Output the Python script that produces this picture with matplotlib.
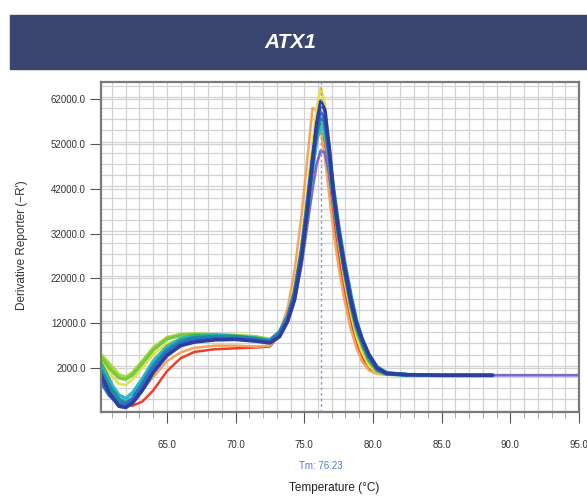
import numpy as np
import matplotlib
matplotlib.use("Agg")
import matplotlib.pyplot as plt
from matplotlib.patches import Rectangle
from matplotlib.ticker import MultipleLocator, FixedLocator
from matplotlib.transforms import blended_transform_factory

nan = np.nan

# temperature points (deg C) shared by all melt curves
temps = [60.2, 60.8, 61.5, 62.0, 62.5, 63.2, 64.0, 65.0, 66.0, 67.0, 68.5, 70.0,
         71.5, 72.5, 73.2, 73.8, 74.3, 74.8, 75.2, 75.6, 75.9, 76.2, 76.5, 76.8,
         77.1, 77.5, 77.9, 78.4, 78.8, 79.2, 79.7, 80.3, 81.0, 82.5, 85.0, 88.7,
         91.0, 95.0]

# derivative reporter values, in thousands
red = [-1.5, -3.0, -5.0, -6.0, -6.4, -5.5, -3.0, 1.3, 4.2, 5.6, 6.2, 6.4, 6.6, 6.8,
       9.5, 14.0, 20.0, 29.0, 39.0, 49.0, 54.0, 55.0, 52.0, 44.5, 36.0, 27.0, 19.5,
       12.0, 7.5, 4.5, 2.0, 0.9, 0.6, nan, nan, nan, nan, nan]
orange = [-0.5, -3.0, -5.0, -5.5, -5.0, -3.0, 0.0, 3.5, 5.5, 6.5, 7.0, 7.0, 6.8, 7.0,
          10.0, 15.5, 24.0, 36.0, 48.0, 60.0, 59.5, 55.0, 49.0, 41.0, 33.0, 24.5, 17.5,
          10.5, 6.5, 3.5, 1.5, 0.7, 0.5, nan, nan, nan, nan, nan]
yellow = [3.8, 1.0, -1.5, -1.8, -0.5, 2.0, 5.0, 7.5, 8.5, 8.8, 8.8, 8.6, 8.0, 7.4,
          9.5, 14.0, 20.5, 30.0, 41.0, 52.0, 60.0, 64.5, 61.0, 51.0, 40.0, 30.0, 22.0,
          14.0, 9.0, 5.5, 2.5, 1.0, 0.6, 0.5, nan, nan, nan, nan]
lime = [5.0, 3.0, 0.5, 0.0, 1.0, 3.5, 6.5, 8.8, 9.5, 9.6, 9.5, 9.3, 9.0, 8.4,
        10.0, 13.5, 19.0, 28.0, 38.5, 49.0, 55.5, 57.5, 56.0, 50.0, 41.5, 32.5, 25.0,
        17.0, 11.5, 7.5, 4.0, 1.5, 0.6, 0.5, nan, nan, nan, nan]
light_green = [4.5, 2.0, -0.2, -0.5, 0.5, 3.0, 6.0, 8.5, 9.3, 9.5, 9.4, 9.2, 8.8, 8.3,
               10.0, 13.5, 18.5, 27.0, 37.0, 47.5, 53.5, 55.0, 54.0, 48.5, 40.0, 31.0,
               23.5, 15.5, 10.5, 7.0, 3.5, 1.3, 0.6, 0.5, nan, nan, nan, nan]
green = [3.0, -0.5, -5.5, -6.5, -5.0, -1.5, 3.0, 6.5, 8.5, 9.2, 9.3, 9.0, 8.6, 8.0,
         9.8, 13.0, 18.0, 26.5, 36.0, 46.5, 53.5, 57.0, 56.5, 50.5, 42.0, 32.5, 24.5,
         16.0, 11.0, 7.5, 4.0, 1.5, 0.7, 0.5, nan, nan, nan, nan]
cyan = [2.5, -1.0, -4.0, -4.8, -3.5, -0.5, 3.5, 6.8, 8.5, 9.0, 9.2, 9.0, 8.6, 8.2,
        10.0, 13.5, 18.5, 27.0, 36.5, 46.5, 53.0, 56.0, 55.0, 49.5, 41.0, 32.0, 24.5,
        16.5, 11.5, 8.0, 4.5, 1.8, 0.7, 0.5, nan, nan, nan, nan]
teal = [1.5, -2.0, -5.0, -5.8, -4.8, -1.5, 2.5, 6.0, 8.0, 8.8, 9.0, 9.0, 8.5, 8.0,
        10.0, 13.5, 19.0, 28.0, 38.0, 48.0, 54.5, 58.0, 57.0, 51.0, 42.5, 33.5, 26.0,
        18.0, 12.5, 8.5, 5.0, 2.2, 0.9, 0.5, 0.4, 0.4, nan, nan]
purple = [0.0, -3.0, -5.5, -6.0, -5.0, -2.0, 1.5, 5.0, 7.2, 8.0, 8.4, 8.5, 8.2, 7.8,
          9.3, 12.5, 17.0, 25.0, 33.5, 42.0, 47.5, 50.5, 50.0, 45.5, 39.0, 31.0, 24.0,
          16.5, 11.5, 8.0, 4.5, 1.8, 0.8, 0.5, 0.4, 0.4, 0.4, 0.4]
blue = [-1.0, -4.0, -6.0, -6.3, -5.0, -2.0, 2.0, 5.5, 7.5, 8.3, 8.6, 8.5, 8.2, 7.8,
        9.5, 13.0, 18.5, 27.5, 37.5, 48.5, 55.5, 59.0, 57.0, 50.0, 41.0, 32.0, 24.5,
        16.5, 11.5, 8.0, 4.5, 1.8, 0.8, 0.5, nan, nan, nan, nan]
dark_blue = [0.5, -3.5, -6.5, -6.8, -5.8, -3.0, 1.0, 4.8, 7.0, 7.8, 8.3, 8.4, 8.0, 7.6,
             9.0, 12.5, 17.5, 26.5, 36.5, 48.0, 56.5, 61.5, 59.5, 51.5, 41.5, 32.5,
             25.0, 17.0, 12.0, 8.5, 5.0, 2.0, 0.8, 0.5, 0.4, 0.4, nan, nan]

tm = 76.23
y_ticks = [2000, 12000, 22000, 32000, 42000, 52000, 62000]
x_ticks = [65, 70, 75, 80, 85, 90, 95]

curves = [
    (red, "#e8402a", 1.8),
    (orange, "#f4a460", 1.8),
    (yellow, "#e8e040", 1.8),
    (purple, "#7b68c8", 2.0),
    (lime, "#a8d838", 2.4),
    (light_green, "#74c944", 2.4),
    (green, "#35b04a", 2.6),
    (cyan, "#2cb8c8", 2.6),
    (teal, "#1f8f9f", 2.8),
    (blue, "#2f6cc8", 2.8),
    (dark_blue, "#2c3e9e", 2.6),
]

plt.rcParams['font.family'] = ['Liberation Sans', 'DejaVu Sans']

fig = plt.figure(figsize=(5.87, 4.97), dpi=100)
fig.patches.append(Rectangle((10 / 587, 1 - 69 / 497), 1, 54 / 497,
                             transform=fig.transFigure, color="#3a4670", zorder=0))
fig.text(0.495, 0.915, "ATX1", color="white", fontsize=15, fontweight="bold",
         fontstyle="italic", ha="center", va="center")

ax = fig.add_axes([101 / 587, 1 - 412 / 497, 478 / 587, 330 / 497])
t = np.array(temps)
for vals, col, lw in curves:
    ax.plot(t, np.array(vals) * 1000, color=col, lw=lw, solid_capstyle="round")

ax.axvline(tm, color="#8a9ad8", lw=1.0, ls=(0, (2, 2)), zorder=5)

ax.set_xlim(60.2, 95)
ax.set_ylim(-7800, 65800)
ax.xaxis.set_major_locator(FixedLocator(x_ticks))
ax.xaxis.set_minor_locator(MultipleLocator(1))
ax.yaxis.set_major_locator(FixedLocator(y_ticks))
ax.yaxis.set_minor_locator(MultipleLocator(2500))
ax.set_xticklabels([f"{v:.1f}" for v in x_ticks])
ax.set_yticklabels([f"{v:.1f}" for v in y_ticks])
ax.grid(True, which="both", color="#d2d2d2", lw=0.9)
ax.set_axisbelow(True)
ax.tick_params(axis="both", which="major", labelsize=7, colors="#555555",
               labelcolor="#333333", length=8, width=0.8, pad=12)
ax.tick_params(axis="y", which="major", pad=3)
ax.tick_params(axis="both", which="minor", length=4, width=0.6, colors="#999999")
ax.tick_params(axis="y", which="minor", length=0)
for s in ax.spines.values():
    s.set_color("#7a7a7a")
    s.set_linewidth(1.6)

tr = blended_transform_factory(ax.transData, fig.transFigure)
ax.text(tm, 1 - 466 / 497, "Tm: 76.23", transform=tr, color="#4a7fd0",
        fontsize=7, ha="center", va="center")
fig.text(0.569, 1 - 488 / 497, "Temperature (°C)", fontsize=8.5, color="#222222",
         ha="center", va="center")
fig.text(0.037, 1 - 245 / 497, "Derivative Reporter (\u2212R')", fontsize=8.5,
         color="#333333", rotation=90, ha="center", va="center")

fig.savefig("out.png", dpi=100)
